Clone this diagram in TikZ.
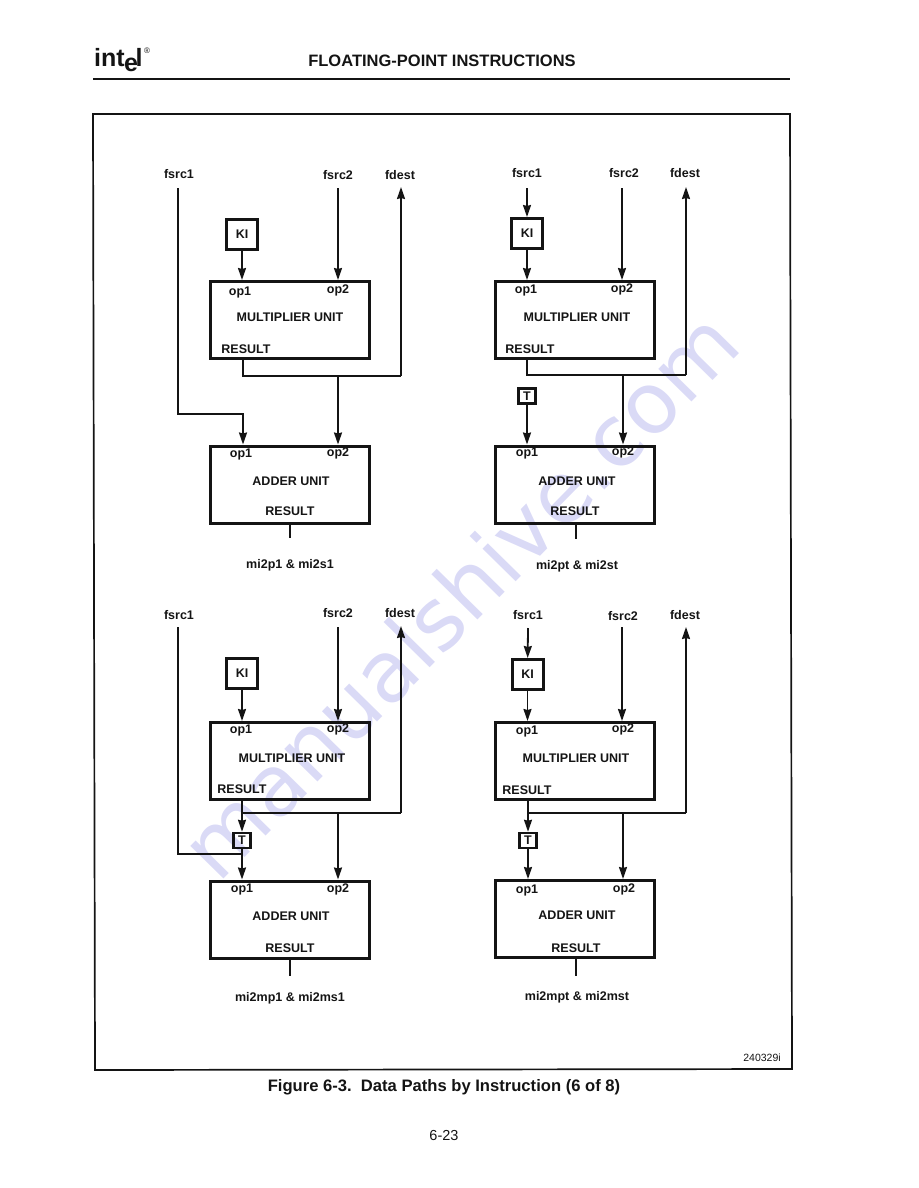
\documentclass[tikz,border=0pt]{standalone}
\usepackage{fontspec}
\setmainfont{Liberation Sans}
\newfontfamily\markfont{DejaVu Sans}
\usepackage{xcolor}
\usetikzlibrary{calc,arrows.meta,positioning}
\definecolor{inkblack}{HTML}{141414}
\definecolor{markblue}{HTML}{DADAF6}
\tikzset{
  lbl/.style={inner sep=0pt,text=inkblack,font=\bfseries\fontsize{12.5}{14}\selectfont},
  unit/.style={draw=inkblack,line width=3pt,minimum width=159pt,minimum height=77pt,inner sep=0pt},
  kibox/.style={draw=inkblack,line width=3pt,minimum width=31pt,minimum height=30pt,inner sep=0pt,lbl},
  tbox/.style={draw=inkblack,line width=2.5pt,minimum width=17pt,minimum height=15pt,inner sep=0pt,lbl},
  bus/.style={draw=inkblack,line width=1.8pt},
  arr/.style={bus,-{Stealth[length=12pt,width=8pt,inset=1pt]}},
}

\begin{document}
\begin{tikzpicture}[x=1pt,y=-1pt]
    \useasboundingbox (0,0) rectangle (918,1188);
    \node[rotate=45.5,text=markblue,font=\markfont\fontsize{85}{90}\selectfont,inner sep=0pt] (wm) at (459,594) {manualshive.com};

    % page head
    \node[inner sep=0pt,anchor=base west,text=inkblack,font=\bfseries\fontsize{25}{30}\selectfont] (logo) at (94,67)
      {int\kern-0.02em\raisebox{-0.2em}{e}\kern-0.1em l};
    \node[inner sep=0pt,text=inkblack,font=\fontsize{8}{9}\selectfont] (reg) at (147,51) {\textregistered};
    \node[lbl,font=\bfseries\fontsize{16.5}{18}\selectfont] (head) at (442,61) {FLOATING-POINT INSTRUCTIONS};
    \coordinate (h1) at (93,79);
    \coordinate (h2) at (790,79);
    \draw[draw=inkblack,line width=2pt] (h1) -- (h2);
    \draw[draw=inkblack,line width=1.7pt] (93,114) -- (790,114) -- (792,1069) -- (95,1070) -- cycle;

    % mi2p1 & mi2s1
    \node[unit] (m1) at (290,320) {};
    \node[unit] (a1) at (290,484.5) {};
    \node[kibox] (k1) at (242,234.5) {KI};
    \node[lbl] (s1) at (179,174) {fsrc1};
    \node[lbl] (s2) at (338,175) {fsrc2};
    \node[lbl] (d1) at (400,175) {fdest};
    \node[lbl] at ($(m1)+(-50,-28)$) (m1p) {op1};
    \node[lbl] at ($(m1)+(48,-30)$) (m1q) {op2};
    \node[lbl] at ($(m1)+(0,-3)$) (m1t) {MULTIPLIER UNIT};
    \node[lbl] at ($(m1)+(-44,29)$) (m1r) {RESULT};
    \node[lbl] at ($(a1)+(-49,-30.5)$) (a1p) {op1};
    \node[lbl] at ($(a1)+(48,-31.5)$) (a1q) {op2};
    \node[lbl] at ($(a1)+(1,-3.5)$) (a1t) {ADDER UNIT};
    \node[lbl] at ($(a1)+(0,26.5)$) (a1r) {RESULT};
    \node[lbl] at ($(a1)+(0,80.5)$) (c1) {mi2p1 \& mi2s1};
    \coordinate (e1) at (178,188);
    \coordinate (e2) at (338,188);
    \coordinate (e3) at (401,187);
    \coordinate (j1) at (243,376);
    \coordinate (j2) at (338,376);
    \coordinate (j3) at (401,376);
    \coordinate (b1) at (178,414);
    \coordinate (b2) at (243,414);
    \coordinate (o1) at (290,538);
    \draw[arr] (k1) -- (m1.north -| k1);
    \draw[arr] (e2) -- (m1.north -| e2);
    \draw[arr] (j3) -- (e3);
    \draw[bus] (m1.south -| j1) -- (j1) -- (j3);
    \draw[arr] (j2) -- (a1.north -| j2);
    \draw[arr] (e1) -- (b1) -- (b2) -- (a1.north -| b2);
    \draw[bus] (a1.south -| o1) -- (o1);

    % mi2pt & mi2st
    \node[unit] (m2) at (575,320) {};
    \node[unit] (a2) at (575,484.5) {};
    \node[kibox] (k2) at (527,233.5) {KI};
    \node[tbox] (t2) at (527,396) {T};
    \node[lbl] (s3) at (527,173) {fsrc1};
    \node[lbl] (s4) at (624,173) {fsrc2};
    \node[lbl] (d2) at (685,173) {fdest};
    \node[lbl] at ($(m2)+(-49,-30)$) (m2p) {op1};
    \node[lbl] at ($(m2)+(47,-31)$) (m2q) {op2};
    \node[lbl] at ($(m2)+(2,-3)$) (m2t) {MULTIPLIER UNIT};
    \node[lbl] at ($(m2)+(-45,29)$) (m2r) {RESULT};
    \node[lbl] at ($(a2)+(-48,-31)$) (a2p) {op1};
    \node[lbl] at ($(a2)+(48,-32)$) (a2q) {op2};
    \node[lbl] at ($(a2)+(2,-3.5)$) (a2t) {ADDER UNIT};
    \node[lbl] at ($(a2)+(0,26.5)$) (a2r) {RESULT};
    \node[lbl] at ($(a2)+(2,81.5)$) (c2) {mi2pt \& mi2st};
    \coordinate (e4) at (527,188);
    \coordinate (e5) at (622,188);
    \coordinate (e6) at (686,187);
    \coordinate (j4) at (527,375);
    \coordinate (j5) at (623,375);
    \coordinate (j6) at (686,375);
    \coordinate (o2) at (576,539);
    \draw[arr] (e4) -- (k2);
    \draw[arr] (k2) -- (m2.north -| k2);
    \draw[arr] (e5) -- (m2.north -| e5);
    \draw[arr] (j6) -- (e6);
    \draw[bus] (m2.south -| j4) -- (j4) -- (j6);
    \draw[arr] (j5) -- (a2.north -| j5);
    \draw[arr] (t2) -- (a2.north -| t2);
    \draw[bus] (a2.south -| o2) -- (o2);

    % mi2mp1 & mi2ms1
    \node[unit] (m3) at (290,761) {};
    \node[unit] (a3) at (290,919.5) {};
    \node[kibox] (k3) at (242,673) {KI};
    \node[tbox] (t3) at (242,840.5) {T};
    \node[lbl] (s5) at (179,615) {fsrc1};
    \node[lbl] (s6) at (338,613) {fsrc2};
    \node[lbl] (d3) at (400,613) {fdest};
    \node[lbl] at ($(m3)+(-49,-31)$) (m3p) {op1};
    \node[lbl] at ($(m3)+(48,-32)$) (m3q) {op2};
    \node[lbl] at ($(m3)+(2,-3)$) (m3t) {MULTIPLIER UNIT};
    \node[lbl] at ($(m3)+(-48,28)$) (m3r) {RESULT};
    \node[lbl] at ($(a3)+(-48,-30)$) (a3p) {op1};
    \node[lbl] at ($(a3)+(48,-30)$) (a3q) {op2};
    \node[lbl] at ($(a3)+(1,-3)$) (a3t) {ADDER UNIT};
    \node[lbl] at ($(a3)+(0,28.5)$) (a3r) {RESULT};
    \node[lbl] at ($(a3)+(0,78.5)$) (c3) {mi2mp1 \& mi2ms1};
    \coordinate (e7) at (178,627);
    \coordinate (e8) at (338,627);
    \coordinate (e9) at (401,626);
    \coordinate (j7) at (242,813);
    \coordinate (j8) at (338,813);
    \coordinate (j9) at (401,813);
    \coordinate (b3) at (178,854);
    \coordinate (b4) at (242,854);
    \coordinate (o3) at (290,976);
    \draw[arr] (k3) -- (m3.north -| k3);
    \draw[arr] (e8) -- (m3.north -| e8);
    \draw[arr] (j9) -- (e9);
    \draw[arr] (m3.south -| t3) -- (t3);
    \draw[bus] (j7) -- (j9);
    \draw[arr] (j8) -- (a3.north -| j8);
    \draw[arr] (t3) -- (a3.north -| t3);
    \draw[bus] (e7) -- (b3) -- (b4);
    \draw[bus] (a3.south -| o3) -- (o3);

    % mi2mpt & mi2mst
    \node[unit] (m4) at (575,761) {};
    \node[unit] (a4) at (575,919) {};
    \node[kibox] (k4) at (527.5,674.5) {KI};
    \node[tbox] (t4) at (528,840.5) {T};
    \node[lbl] (s7) at (528,615) {fsrc1};
    \node[lbl] (s8) at (623,616) {fsrc2};
    \node[lbl] (d4) at (685,615) {fdest};
    \node[lbl] at ($(m4)+(-48,-30)$) (m4p) {op1};
    \node[lbl] at ($(m4)+(48,-32)$) (m4q) {op2};
    \node[lbl] at ($(m4)+(1,-3)$) (m4t) {MULTIPLIER UNIT};
    \node[lbl] at ($(m4)+(-48,29)$) (m4r) {RESULT};
    \node[lbl] at ($(a4)+(-48,-29)$) (a4p) {op1};
    \node[lbl] at ($(a4)+(49,-30)$) (a4q) {op2};
    \node[lbl] at ($(a4)+(2,-4)$) (a4t) {ADDER UNIT};
    \node[lbl] at ($(a4)+(1,29)$) (a4r) {RESULT};
    \node[lbl] at ($(a4)+(2,78)$) (c4) {mi2mpt \& mi2mst};
    \coordinate (e10) at (528,628);
    \coordinate (e11) at (622,627);
    \coordinate (e12) at (686,627);
    \coordinate (j10) at (528,813);
    \coordinate (j11) at (623,813);
    \coordinate (j12) at (686,813);
    \coordinate (o4) at (576,976);
    \draw[arr] (e10) -- (k4);
    \draw[arr] (k4) -- (m4.north -| k4);
    \draw[arr] (e11) -- (m4.north -| e11);
    \draw[arr] (j12) -- (e12);
    \draw[arr] (m4.south -| t4) -- (t4);
    \draw[bus] (j10) -- (j12);
    \draw[arr] (j11) -- (a4.north -| j11);
    \draw[arr] (t4) -- (a4.north -| t4);
    \draw[bus] (a4.south -| o4) -- (o4);

    % page foot
    \node[inner sep=0pt,text=inkblack,font=\fontsize{10.5}{12}\selectfont] (num) at (762,1058) {240329i};
    \node[lbl,font=\bfseries\fontsize{16.6}{18}\selectfont] (fig) at (444,1087) {Figure 6-3.\ \ Data Paths by Instruction (6 of 8)};
    \node[inner sep=0pt,text=inkblack,font=\fontsize{14.5}{16}\selectfont] (page) at (444,1135) {6-23};
\end{tikzpicture}
\end{document}
